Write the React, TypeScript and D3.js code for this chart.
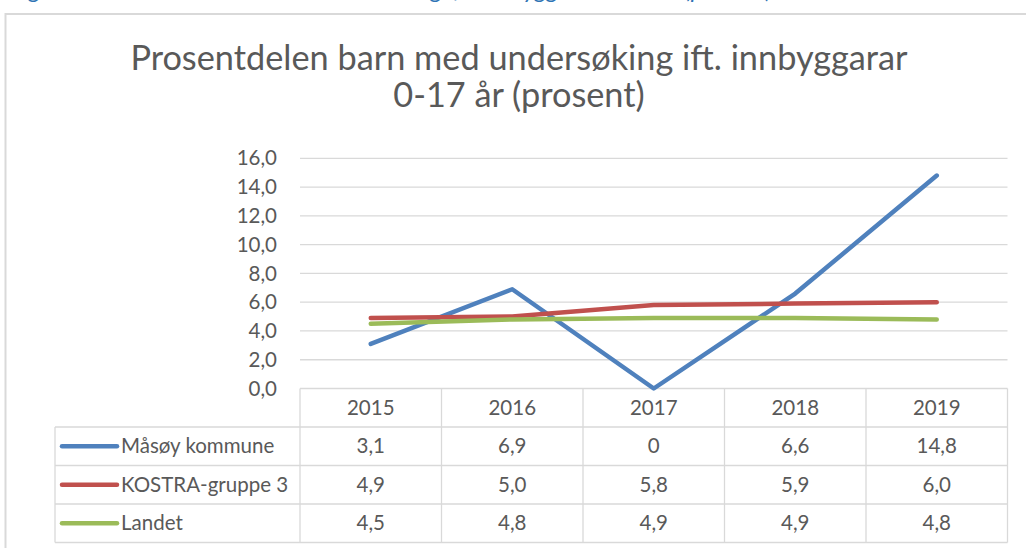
import React from "react";
import * as d3 from "d3";

const years = ["2015", "2016", "2017", "2018", "2019"];
const masoy = [3.1, 6.9, 0, 6.6, 14.8];
const kostra = [4.9, 5.0, 5.8, 5.9, 6.0];
const landet = [4.5, 4.8, 4.9, 4.9, 4.8];
const seriesNames = ["Måsøy kommune", "KOSTRA-gruppe 3", "Landet"];
const seriesColors = ["#4F81BD", "#C0504D", "#9BBB59"];
const yTicks = [0, 2, 4, 6, 8, 10, 12, 14, 16];
const titleLines = ["Prosentdelen barn med undersøking ift. innbyggarar", "0-17 år (prosent)"];
const caption = "Figur 5 Prosentdelen barn med undersøking ift. innbyggarar 0-17 år (prosent)";

const W = 1026;
const H = 548;
const FONT = "Lato, 'Open Sans', sans-serif";
const TEXT = "#595959";
const GRID = "#D9D9D9";

export default function App() {
  const plotLeft = 300;
  const plotRight = 1007.5;
  const yTop = 158.3;
  const yZero = 388.5;
  const rowH = 38.5;
  const tableLeft = 55;

  const x = d3.scaleBand<string>().domain(years).range([plotLeft, plotRight]);
  const y = d3.scaleLinear().domain([0, 16]).range([yZero, yTop]);
  const cx = (i: number) => (x(years[i]) as number) + x.bandwidth() / 2;
  const line = d3
    .line<number>()
    .x((_, i) => cx(i))
    .y((d) => y(d));

  const all = [masoy, kostra, landet];
  const fmt = (v: number) => (v === 0 ? "0" : d3.format(".1f")(v).replace(".", ","));

  const headerBottom = yZero + rowH;
  const tableBottom = headerBottom + rowH * 3;

  return (
    <svg
      width={W}
      height={H}
      style={{ position: "absolute", left: 0, top: 0, background: "#fff" }}
      fontFamily={FONT}
    >
      <text x={11} y={-2} fontSize={24} fontStyle="italic" fill="#2E74B5">
        {caption}
      </text>
      <rect x={5.5} y={14} width={W + 20} height={H + 20} fill="#fff" stroke="#D9D9D9" strokeWidth={2} />

      {titleLines.map((t, i) => (
        <text key={i} x={519} y={69.5 + i * 37} textAnchor="middle" fontSize={34.3} fill={TEXT}>
          {t}
        </text>
      ))}

      {yTicks.map((t) => (
        <g key={t}>
          {t > 0 && (
            <line x1={plotLeft} x2={plotRight} y1={y(t)} y2={y(t)} stroke={GRID} strokeWidth={1.3} />
          )}
          <text x={277} y={y(t)} dy="0.35em" textAnchor="end" fontSize={20.5} fill={TEXT}>
            {d3.format(".1f")(t).replace(".", ",")}
          </text>
        </g>
      ))}

      {/* table grid */}
      <g stroke={GRID} strokeWidth={1.3} fill="none">
        <line x1={plotLeft} x2={plotRight} y1={yZero} y2={yZero} />
        {[0, 1, 2, 3].map((r) => (
          <line key={r} x1={tableLeft} x2={plotRight} y1={headerBottom + r * rowH} y2={headerBottom + r * rowH} />
        ))}
        <line x1={tableLeft} x2={tableLeft} y1={headerBottom} y2={tableBottom} />
        {years.map((yr) => (
          <line key={yr} x1={x(yr)} x2={x(yr)} y1={yZero} y2={tableBottom} />
        ))}
        <line x1={plotRight} x2={plotRight} y1={yZero} y2={tableBottom} />
      </g>

      {years.map((yr, i) => (
        <text key={yr} x={cx(i)} y={yZero + rowH / 2} dy="0.35em" textAnchor="middle" fontSize={20.5} fill={TEXT}>
          {yr}
        </text>
      ))}

      {all.map((s, si) => (
        <g key={si}>
          <line
            x1={62}
            x2={117}
            y1={headerBottom + rowH * si + rowH / 2}
            y2={headerBottom + rowH * si + rowH / 2}
            stroke={seriesColors[si]}
            strokeWidth={4.5}
            strokeLinecap="round"
          />
          <text x={121} y={headerBottom + rowH * si + rowH / 2} dy="0.35em" fontSize={20.5} fill={TEXT}>
            {seriesNames[si]}
          </text>
          {s.map((v, i) => (
            <text
              key={i}
              x={cx(i)}
              y={headerBottom + rowH * si + rowH / 2}
              dy="0.35em"
              textAnchor="middle"
              fontSize={20.5}
              fill={TEXT}
            >
              {fmt(v)}
            </text>
          ))}
        </g>
      ))}

      {all.map((s, si) => (
        <path
          key={si}
          d={line(s) || ""}
          fill="none"
          stroke={seriesColors[si]}
          strokeWidth={4.5}
          strokeLinecap="round"
          strokeLinejoin="round"
        />
      ))}
    </svg>
  );
}
